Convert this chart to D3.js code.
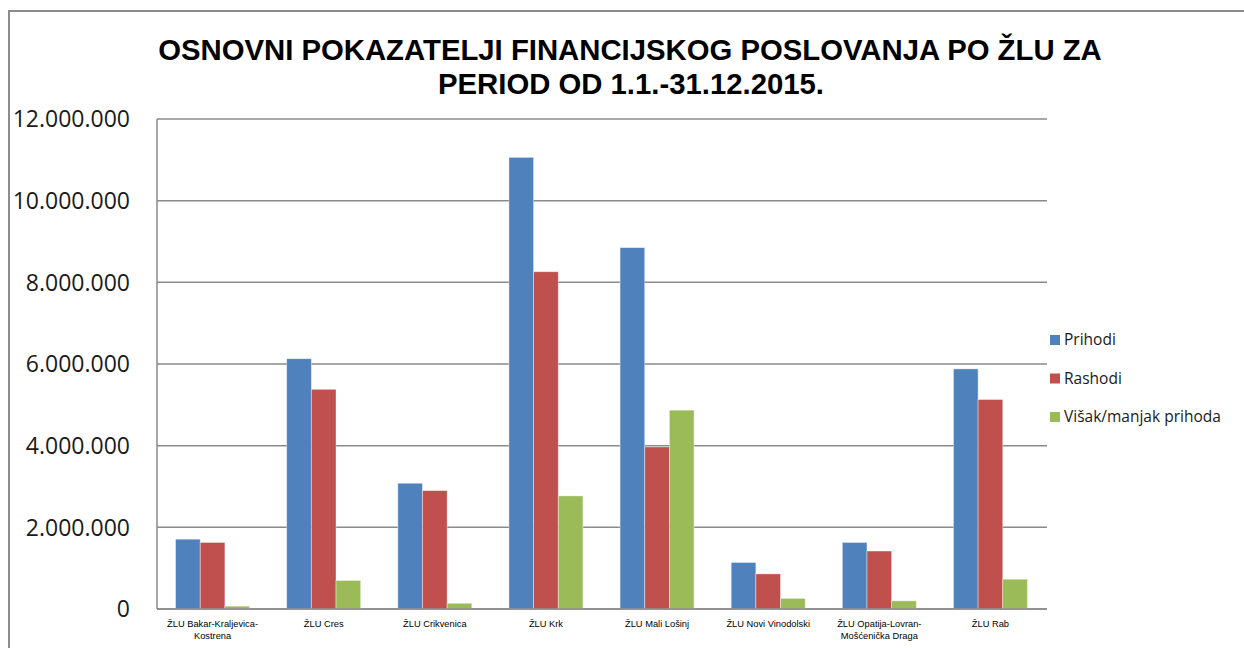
<!DOCTYPE html>
<html>
<head>
<meta charset="utf-8">
<script src="https://cdn.jsdelivr.net/npm/d3@7"></script>
<style>
  body { margin: 0; background: #fff; }
  svg { display: block; }
</style>
</head>
<body>
<script>
// podaci ocitani s grafikona
const categories = ["ŽLU Bakar-Kraljevica-Kostrena", "ŽLU Cres", "ŽLU Crikvenica", "ŽLU Krk",
  "ŽLU Mali Lošinj", "ŽLU Novi Vinodolski", "ŽLU Opatija-Lovran-Mošćenička Draga", "ŽLU Rab"];
const labelLines = [["ŽLU Bakar-Kraljevica-", "Kostrena"], ["ŽLU Cres"], ["ŽLU Crikvenica"], ["ŽLU Krk"],
  ["ŽLU Mali Lošinj"], ["ŽLU Novi Vinodolski"], ["ŽLU Opatija-Lovran-", "Mošćenička Draga"], ["ŽLU Rab"]];
const seriesNames = ["Prihodi", "Rashodi", "Višak/manjak prihoda"];
const prihodi = [1710000, 6130000, 3080000, 11060000, 8850000, 1140000, 1630000, 5880000];
const rashodi = [1630000, 5380000, 2900000, 8260000, 3970000, 860000, 1420000, 5130000];
const visak = [70000, 700000, 140000, 2770000, 4870000, 260000, 200000, 730000];
const yTicks = [0, 2000000, 4000000, 6000000, 8000000, 10000000, 12000000];
const colors = ["#4F81BD", "#C0504D", "#9BBB59"];

const W = 1244, H = 648;
const margin = { left: 157, right: 1046, top: 119, bottom: 609 };

const svg = d3.select("body").append("svg").attr("width", W).attr("height", H);

// okvir grafikona
svg.append("path")
  .attr("d", `M9,${H + 5}V11H${W + 5}`)
  .attr("fill", "none").attr("stroke", "#8c8c8c").attr("stroke-width", 2);

// naslov
const title = svg.append("text")
  .attr("text-anchor", "middle")
  .style("font-family", "'Liberation Sans', Arial, sans-serif")
  .style("font-weight", "bold").style("font-size", "29.3px").attr("fill", "#000");
title.append("tspan").attr("x", 630).attr("y", 60).text("OSNOVNI POKAZATELJI FINANCIJSKOG POSLOVANJA PO ŽLU ZA");
title.append("tspan").attr("x", 631).attr("y", 94).text("PERIOD OD 1.1.-31.12.2015.");

const x = d3.scaleBand().domain(categories).range([margin.left, margin.right])
  .paddingInner(0.334).paddingOuter(0.167);
const xs = d3.scaleBand().domain(seriesNames).range([0, x.bandwidth()]);
const y = d3.scaleLinear().domain([0, 12000000]).range([margin.bottom, margin.top]);

// mreza
svg.append("g").selectAll("line").data(yTicks).enter().append("line")
  .attr("x1", margin.left).attr("x2", margin.right + 1)
  .attr("y1", d => y(d)).attr("y2", d => y(d))
  .attr("stroke", "#8a8a8a").attr("stroke-width", 1.5);

svg.append("line")
  .attr("x1", margin.left).attr("x2", margin.left)
  .attr("y1", margin.top).attr("y2", margin.bottom)
  .attr("stroke", "#8a8a8a").attr("stroke-width", 1.5);

// oznake y osi
const fmt = d => d === 0 ? "0" : d3.format(",")(d).replace(/,/g, ".");
svg.append("g").selectAll("text").data(yTicks).enter().append("text")
  .attr("x", 130).attr("y", d => y(d)).attr("dy", "0.36em")
  .attr("text-anchor", "end")
  .style("font-family", "'Open Sans', sans-serif").style("font-size", "23px")
  .attr("fill", "#1a1a1a")
  .text(fmt);

// stupci
const series = [prihodi, rashodi, visak];
series.forEach((vals, si) => {
  svg.append("g").selectAll("rect").data(vals).enter().append("rect")
    .attr("x", (d, i) => x(categories[i]) + xs(seriesNames[si]))
    .attr("width", xs.bandwidth())
    .attr("y", d => y(d))
    .attr("height", d => y(0) - y(d))
    .attr("fill", colors[si])
    .attr("stroke", "rgba(255,255,255,0.5)").attr("stroke-width", 0.8);
});

// os x
svg.append("line")
  .attr("x1", margin.left).attr("x2", margin.right + 1)
  .attr("y1", margin.bottom).attr("y2", margin.bottom)
  .attr("stroke", "#8a8a8a").attr("stroke-width", 1.5);

const xl = svg.append("g").selectAll("text").data(categories).enter().append("text")
  .attr("text-anchor", "middle")
  .style("font-family", "'Liberation Sans', Arial, sans-serif").style("font-size", "9.3px")
  .attr("fill", "#000");
xl.each(function (d, i) {
  const t = d3.select(this);
  labelLines[i].forEach((ln, k) => {
    t.append("tspan").attr("x", x(d) + x.bandwidth() / 2).attr("y", 627 + k * 12).text(ln);
  });
});

// legenda
const lg = svg.append("g").selectAll("g").data(seriesNames).enter().append("g")
  .attr("transform", (d, i) => `translate(1050,${340 + i * 38.5})`);
lg.append("rect").attr("x", 0).attr("y", -5).attr("width", 10).attr("height", 10)
  .attr("fill", (d, i) => colors[i]);
lg.append("text").attr("x", 14).attr("y", 0).attr("dy", "0.35em")
  .style("font-family", "'Open Sans', sans-serif").style("font-size", "15.5px")
  .attr("fill", "#1a1a1a").text(d => d);
</script>
</body>
</html>
